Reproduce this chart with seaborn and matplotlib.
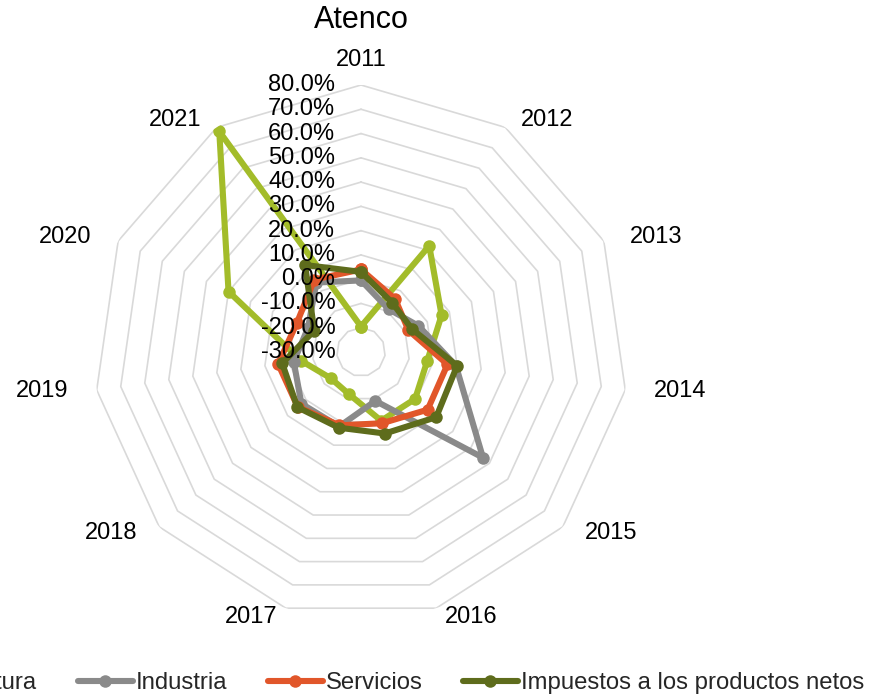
import numpy as np
import pandas as pd
import matplotlib
matplotlib.use("Agg")
import matplotlib.pyplot as plt
import seaborn as sns

# ---- data ----
years = ["2011", "2012", "2013", "2014", "2015", "2016", "2017", "2018", "2019", "2020", "2021"]
agricultura = [-19.5, 22.0, 6.5, -2.5, -0.5, -0.5, -12.0, -13.5, -5.0, 30.0, 78.0]
industria = [-0.5, -9.0, -4.0, 9.5, 36.5, -9.0, 2.0, 2.5, -2.0, -6.0, 4.0]
servicios = [4.0, -4.0, -8.5, 6.0, 6.3, 0.6, 1.5, 4.5, 4.5, -1.0, 5.5]
impuestos = [3.0, -6.0, -7.0, 10.0, 11.0, 5.0, 2.5, 4.7, 2.8, -8.8, 12.6]
series_names = ["Agricultura", "Industria", "Servicios", "Impuestos a los productos netos"]
series_vals = [agricultura, industria, servicios, impuestos]
colors = ["#A3BC2A", "#8A8A8A", "#E1562A", "#5E6C1C"]
r_levels = [-30, -20, -10, 0, 10, 20, 30, 40, 50, 60, 70, 80]
rmin, rmax = -30, 80

sns.set_theme(style="white")
plt.rcParams["font.family"] = ["Liberation Sans", "DejaVu Sans"]

fig = plt.figure(figsize=(8.72, 7.0), dpi=100)
cx, cy, R = 361, 352, 267
ax = fig.add_axes([(cx - R) / 872, (700 - cy - R) / 700, 2 * R / 872, 2 * R / 700],
                  projection="polar")
ax.set_theta_zero_location("N")
ax.set_theta_direction(-1)
ax.set_ylim(rmin, rmax)
ax.grid(False)
ax.set_xticks([])
ax.set_yticks([])
ax.spines["polar"].set_visible(False)
ax.set_facecolor("none")

n = len(years)
theta = np.arange(n) * 2 * np.pi / n
theta_closed = np.append(theta, 2 * np.pi)

grid_c = "#D9D9D9"
# polygon gridlines (no spokes)
for lv in r_levels[1:]:
    ax.plot(theta_closed, [lv] * (n + 1), color=grid_c, lw=1.2, zorder=1)

# data series
handles = []
for name, vals, c in zip(series_names, series_vals, colors):
    df = pd.DataFrame({"theta": theta_closed, "val": list(vals) + [vals[0]]})
    sns.lineplot(data=df, x="theta", y="val", sort=False, estimator=None,
                 color=c, lw=4.4, marker="o", markersize=9, markeredgewidth=0,
                 ax=ax, legend=False, zorder=3)
    ln = ax.lines[-1]
    ln.set_label(name)
    handles.append(ln)
ax.set_xlabel("")
ax.set_ylabel("")

# radial tick labels
for lv in r_levels:
    ax.annotate(f"{lv:.1f}%", xy=(0, lv), xytext=(-18.5, 0), textcoords="offset points",
                ha="right", va="center", fontsize=17, color="#000000", zorder=5)

# category labels (placed on an ellipse around the plot, edge-aligned)
px2pt = 72 / 100
for t, y in zip(theta, years):
    s, c = np.sin(t), np.cos(t)
    if abs(s) < 0.1:
        ha, ox, oy = "center", 0, 292 * c
    else:
        ha = "left" if s > 0 else "right"
        ox, oy = 296 * s, 276 * c
    ax.annotate(y, xy=(t, rmin), xytext=(ox * px2pt, oy * px2pt),
                textcoords="offset points", ha=ha, va="center",
                fontsize=17, color="#000000")

fig.text(361 / 872, 1 - 20 / 700, "Atenco", ha="center", va="center", fontsize=22,
         color="#000000")

fig.legend(handles=handles, labels=series_names, loc="center right",
           bbox_to_anchor=(864 / 872, 17 / 700), ncol=4, frameon=False,
           fontsize=17.2, handlelength=2.3, handletextpad=0.12, columnspacing=1.7,
           borderpad=0, borderaxespad=0)

fig.savefig("out.png", dpi=100)
